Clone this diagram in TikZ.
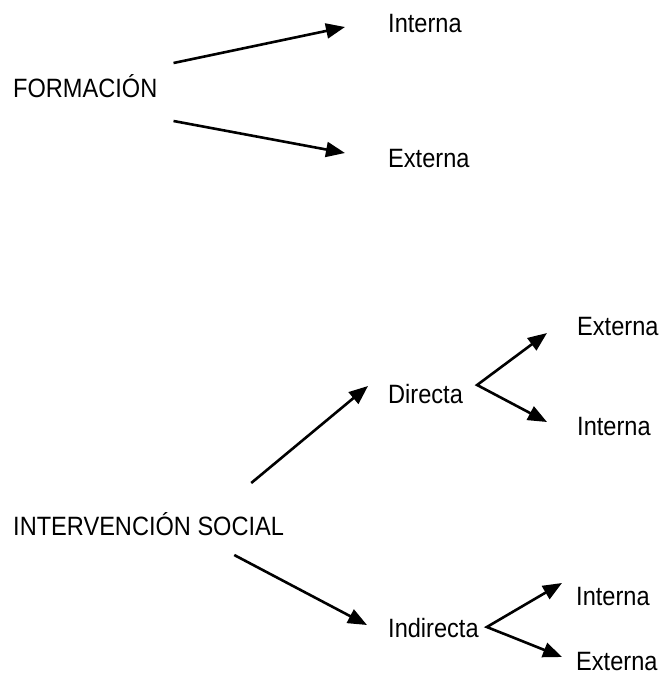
\documentclass[tikz,border=0pt]{standalone}
\usepackage{fontspec}
\setmainfont{Liberation Sans}[FakeStretch=0.89]
\usetikzlibrary{arrows.meta}

\begin{document}
\begin{tikzpicture}[x=1pt,y=-1pt]
\tikzset{TextoStyle/.style = {inner sep=0pt, anchor=base west, font=\fontsize{26.5}{30}\selectfont}}
\tikzset{FlechaStyle/.style = {line width=2.6pt, -{Triangle[length=19pt,width=15pt]}}}
\tikzset{DobleStyle/.style = {line width=2.6pt, {Triangle[length=19pt,width=15pt]}-{Triangle[length=19pt,width=15pt]}}}
\useasboundingbox (0,0) rectangle (662,675);

\node[TextoStyle] (formacion) at (13,97) {FORMACIÓN};
	\node[TextoStyle] (formInterna) at (388,32) {Interna};
	\node[TextoStyle] (formExterna) at (388,167) {Externa};

\node[TextoStyle] (intervencion) at (13,535) {INTERVENCIÓN SOCIAL};
	\node[TextoStyle] (directa) at (388,403) {Directa};
		\node[TextoStyle] (directaExterna) at (577,335) {Externa};
		\node[TextoStyle] (directaInterna) at (577,435) {Interna};
	\node[TextoStyle] (indirecta) at (388,637) {Indirecta};
		\node[TextoStyle] (indirectaInterna) at (576,605) {Interna};
		\node[TextoStyle] (indirectaExterna) at (576,670) {Externa};

\draw[FlechaStyle] ([shift={(16,-34)}]formacion.base east) -- ([shift={(-43,-5)}]formInterna.base west);
\draw[FlechaStyle] ([shift={(16,24)}]formacion.base east) -- ([shift={(-43,-14)}]formExterna.base west);
\draw[FlechaStyle] ([shift={(-33,-52)}]intervencion.base east) -- ([shift={(-20,-17)}]directa.base west);
\draw[FlechaStyle] ([shift={(-50,20)}]intervencion.base east) -- ([shift={(-21,-12)}]indirecta.base west);
\draw[DobleStyle] ([shift={(-30,-2)}]directaExterna.base west) -- ([shift={(14,-18)}]directa.base east) -- ([shift={(-30,-13)}]directaInterna.base west);
\draw[DobleStyle] ([shift={(-14,-22)}]indirectaInterna.base west) -- ([shift={(8,-10)}]indirecta.base east) -- ([shift={(-14,-13)}]indirectaExterna.base west);
\end{tikzpicture}
\end{document}
